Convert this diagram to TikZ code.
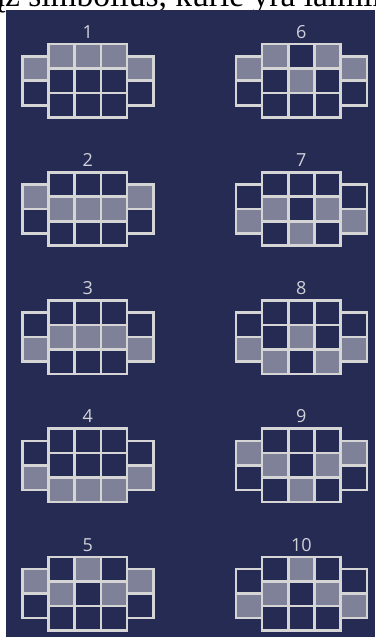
\documentclass[tikz,border=0pt]{standalone}
\usepackage{fontspec}
\setmainfont{Liberation Serif}
\newfontfamily\labfont{Open Sans}
\definecolor{panelbg}{HTML}{262B53}
\definecolor{cellfill}{HTML}{7F8199}
\definecolor{gridline}{HTML}{D5D5D5}
\definecolor{labcol}{HTML}{D0D1D9}
\tikzset{
  gridcell/.style={draw=gridline, line width=2.6pt},
  hotcell/.style={fill=cellfill},
  patlabel/.style={text=labcol, font=\labfont\fontsize{18}{20}\selectfont, inner sep=0pt, anchor=base}
}
\newcommand\cw{26.2}
\newcommand\ch{24.5}
% #1 = X, #2 = T, #3 = name, #4 = label, #5 = filled cells i/j
\newcommand\slotpattern[5]{%
  \foreach \i/\j in {#5}{%
    \fill[hotcell] ({#1+\i*\cw},{#2+\j*\ch/2}) rectangle ++(\cw,\ch);
  }
  \foreach \i in {1,2,3}{\foreach \j in {0,2,4}{%
    \draw[gridcell] ({#1+\i*\cw},{#2+\j*\ch/2}) rectangle ++(\cw,\ch);
  }}
  \foreach \i in {0,4}{\foreach \j in {1,3}{%
    \draw[gridcell] ({#1+\i*\cw},{#2+\j*\ch/2}) rectangle ++(\cw,\ch);
  }}
  \node[patlabel] (#3) at ({#1+2.5*\cw},{#2-5.7}) {#4};
}
\begin{document}
\begin{tikzpicture}[x=1pt,y=-1pt]
\clip (0,0) rectangle (375,637);
\fill[white] (0,0) rectangle (375,637);
\node[anchor=base west, inner sep=0pt, font=\fontsize{33.5}{36}\selectfont] (toptext) at (-10,6.3) {ąž simbolius, kurie yra laimin};
\fill[panelbg] (6,9.7) rectangle (375,637);
\slotpattern{22.3}{44}{p1}{1}{1/0,2/0,3/0,0/1,4/1}
\slotpattern{22.3}{172.2}{p2}{2}{1/2,2/2,3/2,0/1,4/1}
\slotpattern{22.3}{300.4}{p3}{3}{1/2,2/2,3/2,0/3,4/3}
\slotpattern{22.3}{428.6}{p4}{4}{1/4,2/4,3/4,0/3,4/3}
\slotpattern{22.3}{556.8}{p5}{5}{2/0,1/2,3/2,0/1,4/1}
\slotpattern{235.8}{44}{p6}{6}{1/0,3/0,2/2,0/1,4/1}
\slotpattern{235.8}{172.2}{p7}{7}{1/2,3/2,2/4,0/3,4/3}
\slotpattern{235.8}{300.4}{p8}{8}{2/2,1/4,3/4,0/3,4/3}
\slotpattern{235.8}{428.6}{p9}{9}{1/2,3/2,2/4,0/1,4/1}
\slotpattern{235.8}{556.8}{p10}{10}{2/0,1/2,3/2,0/3,4/3}
\end{tikzpicture}
\end{document}
